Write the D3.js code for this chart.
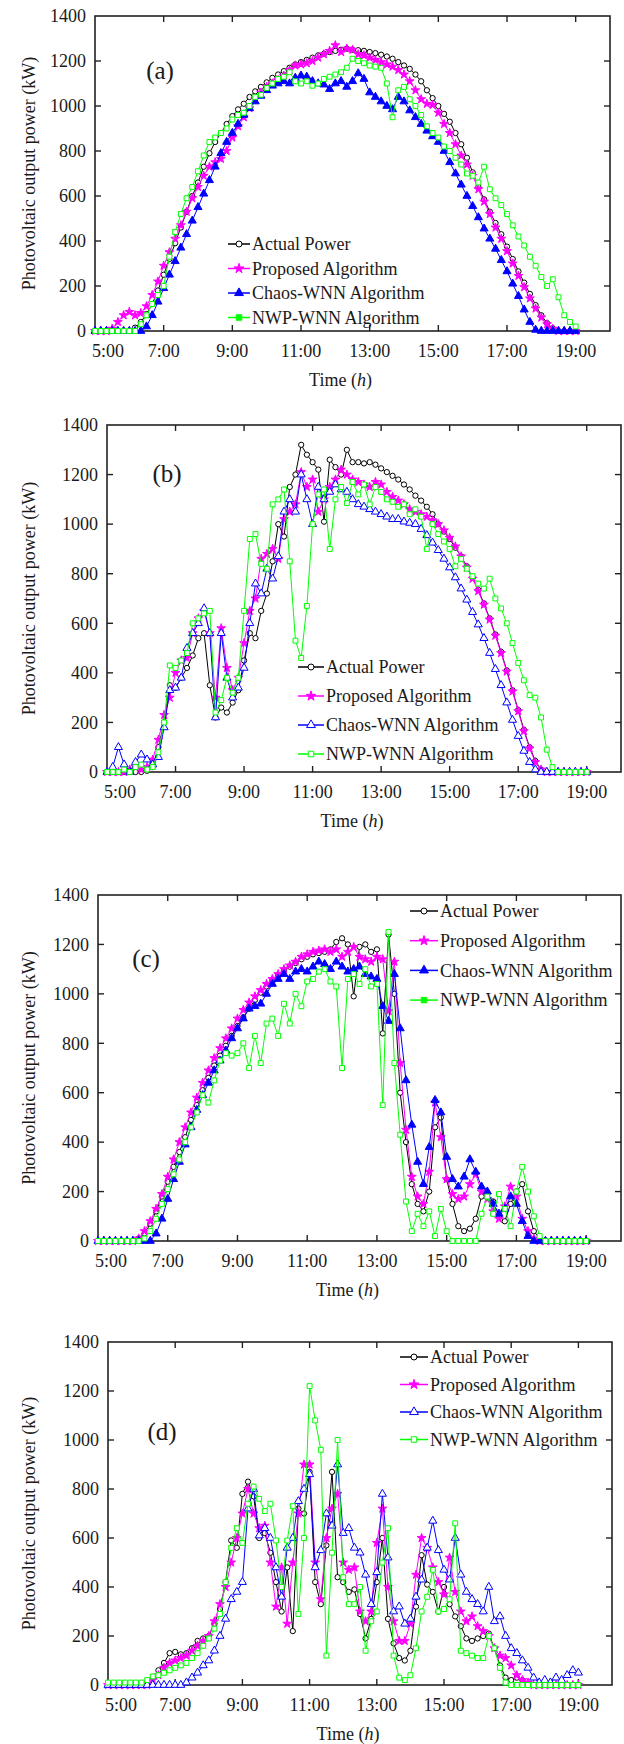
<!DOCTYPE html>
<html lang="en">
  <head>
    <meta charset="utf-8">
    <title>Photovoltaic output power forecasts</title>
    <script src="https://cdn.jsdelivr.net/npm/d3@7"></script>
    <style>
      body { margin: 0; background: #fff; }
      text { font-family: "Liberation Serif", "Times New Roman", serif; fill: #1a1a1a; }
      .frame { fill: none; stroke: #222; stroke-width: 1.6px; }
      .tick { stroke: #222; stroke-width: 1.4px; }
    </style>
  </head>
  <body>
<script>

// ************** Data (kW, one value every 10 minutes from 5:00 to 19:00) *****************

const seriesNames = ["Actual Power", "Proposed Algorithm", "Chaos-WNN Algorithm", "NWP-WNN Algorithm"]
const xTickHours = [5, 7, 9, 11, 13, 15, 17, 19]
const yTickValues = [0, 200, 400, 600, 800, 1000, 1200, 1400]

const actualA = [0,0,0,0,0,0, 0,15,40,75,120,180, 250,320,390,460,530,600, 660,730,790,840,880,920,
  955,985,1010,1040,1065,1085, 1105,1125,1140,1155,1170,1185, 1195,1205,1215,1225,1232,1240,
  1245,1250,1255,1250,1248,1245, 1240,1235,1228,1220,1210,1195, 1180,1165,1140,1110,1070,1035,
  1000,965,930,880,830,770, 705,640,585,530,480,430, 375,320,265,215,165,115, 70,35,12,0,0,0, 0]
const proposedA = [0,0,0,10,40,70, 85,70,80,110,160,220, 290,350,410,470,530,590, 640,690,730,750,765,800,
  860,910,950,990,1030,1060, 1085,1100,1115,1135,1160,1180, 1185,1190,1200,1215,1230,1245,
  1270,1240,1255,1250,1230,1225, 1215,1205,1195,1185,1175,1160, 1140,1110,1070,1030,1010,1005,
  970,920,880,830,780,740, 690,630,575,520,460,410, 355,300,245,195,145,100, 60,30,10,0,0,0, 0]
const chaosA = [0,0,0,0,0,0, 0,0,0,20,70,130, 190,250,310,370,430,490, 550,610,670,730,790,840,
  880,920,960,990,1020,1045, 1070,1090,1100,1110,1100,1125, 1135,1130,1110,1100,1095,1075,
  1100,1110,1085,1110,1145,1120, 1060,1040,1020,1000,985,1040, 1020,980,950,920,890,865,
  840,800,750,700,650,600, 555,505,455,410,365,315, 265,210,155,95,40,5, 0,0,0,0,0,0, 0]
const nwpA = [0,0,0,0,0,0, 0,0,30,70,120,160, 200,330,440,520,590,640, 710,780,840,860,880,900,
  940,960,970,1000,1040,1050, 1080,1100,1120,1130,1150,1110, 1100,1110,1090,1100,1120,1130,
  1140,1150,1170,1210,1200,1190, 1180,1175,1170,1100,950,1070, 1085,1030,1000,960,910,880,
  860,820,800,770,740,700, 690,660,730,630,590,560, 520,470,420,380,330,290, 240,200,230,150,70,40, 20]

const actualB = [0,0,0,0,0,0, 0,5,20,100,200,350, 340,380,420,470,540,560, 350,220,260,240,280,330,
  450,560,540,650,720,850, 1000,950,1150,1200,1320,1280, 1250,1220,1010,1260,1230,1200,
  1300,1250,1250,1245,1250,1240, 1225,1210,1195,1180,1160,1140, 1115,1095,1070,1040,1000,970,
  940,905,870,830,785,735, 680,620,555,485,410,330, 250,170,100,45,10,0, 0,0,0,0,0,0, 0]
const proposedB = [0,0,0,0,10,20, 10,20,50,130,230,300, 400,450,460,560,620,650, 560,300,580,420,330,380,
  520,650,700,860,880,900, 860,1020,1050,1080,1210,1150, 1180,1050,1100,1150,1180,1220,
  1200,1180,1170,1160,1150,1170, 1160,1130,1110,1095,1080,1060, 1050,1040,1030,1015,1000,975,
  945,910,870,825,780,730, 675,615,550,480,405,325, 245,165,95,40,10,0, 0,0,0,0,0,0, 0]
const chaosB = [0,20,100,30,0,40, 70,50,30,60,180,330, 340,380,500,560,600,660, 560,220,560,380,300,340,
  420,600,760,720,820,780, 870,1050,1100,1050,1200,1100, 1000,1150,1100,1130,1160,1140,
  1130,1100,1080,1070,1060,1050, 1040,1030,1020,1020,1010,1005, 1000,980,955,925,895,860,
  825,785,740,695,645,595, 540,480,415,350,280,210, 145,85,40,10,0,0, 0,0,0,0,0,0, 0]
const nwpB = [0,0,0,10,0,20, 30,10,20,80,200,430, 420,450,480,600,620,640, 650,240,290,380,320,380,
  650,940,960,840,820,1080, 1100,1140,850,530,460,670, 1000,1120,1140,900,1100,1150,
  1085,1170,1120,1160,1080,1150, 1130,1100,1090,1070,1080,1040, 1060,1030,900,1000,960,930,
  900,830,860,820,790,760, 740,780,700,660,600,520, 440,370,310,300,220,90, 20,0,0,0,0,0, 0]

const actualC = [0,0,0,0,0,0, 0,10,30,70,120,180, 240,300,360,420,490,550, 610,660,710,750,790,830,
  870,905,940,975,1005,1030, 1055,1075,1095,1110,1125,1140, 1150,1160,1165,1170,1180,1210,
  1225,1200,990,1190,1200,1170, 1180,840,1240,1000,600,400, 230,150,120,200,460,500,
  250,150,60,40,50,90, 180,190,160,100,80,150, 200,230,120,40,10,0, 0,0,0,0,0,0, 0]
const proposedC = [0,0,0,0,0,0, 0,10,40,80,130,190, 260,330,400,460,520,580, 640,690,740,780,820,860,
  900,935,965,990,1015,1040, 1060,1080,1100,1115,1130,1150, 1160,1170,1175,1180,1170,1180,
  1150,1170,1190,1150,1140,1130, 1150,1140,930,1130,720,450, 260,180,150,280,560,420,
  250,190,170,180,230,270, 200,170,120,90,140,220, 180,90,40,10,0,0, 0,0,0,0,0,0, 0]
const chaosC = [0,0,0,0,0,0, 0,0,0,0,30,90, 170,250,320,390,460,530, 590,640,690,730,770,820,
  860,900,940,950,960,1000, 1040,1060,1080,1060,1090,1100, 1090,1110,1130,1120,1100,1130,
  1110,1090,1100,1110,1080,1070, 1060,950,890,1080,860,650, 470,320,230,380,570,520,
  340,250,220,260,330,280, 220,200,150,110,130,180, 150,80,20,0,0,0, 0,0,0,0,0,0, 0]
const nwpC = [0,0,0,0,0,0, 0,0,10,40,90,150, 210,270,330,400,460,520, 590,560,650,730,760,750,
  760,800,700,830,720,880, 900,830,960,880,1000,950, 1050,1060,1090,1100,1050,1030,
  700,1060,1080,1040,1100,1030, 1040,550,1250,720,430,160, 40,110,60,120,20,130,
  40,0,0,0,0,0, 110,180,110,190,130,60, 200,300,200,100,20,0, 0,0,0,0,0,0, 0]

const actualD = [0,0,0,0,0,0, 0,10,30,60,90,130, 135,125,130,150,180,190, 200,250,310,420,590,560,
  780,830,770,600,620,540, 420,300,480,220,720,700, 870,420,330,570,870,440,
  420,380,390,290,190,270, 420,600,270,170,110,100, 140,320,530,410,380,300,
  400,330,280,240,190,180, 190,200,210,150,80,30, 20,30,20,0,0,0, 0,0,0,0,0,0, 0]
const proposedD = [0,0,0,0,0,0, 0,0,20,40,70,90, 100,110,120,140,160,180, 200,260,330,400,500,600,
  700,800,700,640,650,500, 320,480,250,500,700,900, 900,500,350,600,720,780,
  500,470,480,300,260,300, 580,720,400,260,180,180, 250,450,600,560,480,420,
  370,520,380,300,260,280, 240,220,200,150,120,110, 80,40,20,10,0,0, 0,0,0,0,0,0, 0]
const chaosD = [0,0,0,0,0,0, 0,0,0,0,0,0, 0,0,10,30,50,80, 100,140,200,270,350,380,
  420,720,800,610,640,600, 480,360,560,600,750,800, 860,480,550,700,650,900,
  620,640,560,540,450,330, 460,780,520,300,320,250, 270,360,430,560,670,550,
  470,430,600,450,380,350, 330,300,400,260,280,200, 150,130,100,70,30,10, 20,10,30,20,40,60, 50]
const nwpD = [10,10,10,10,10,10, 10,20,35,40,50,60, 70,80,90,110,130,160, 190,230,290,420,560,640,
  580,740,810,760,710,740, 590,400,590,730,290,600, 1220,1080,960,120,540,1000,
  440,330,330,400,140,260, 300,500,640,120,30,20, 40,150,300,360,470,300,
  310,350,660,140,130,120, 110,110,200,150,70,10, 0,0,0,0,0,0, 0,0,0,0,0,0, 0]

// sample times in hours (x categories)
const hours = d3.range(actualA.length).map(i => 5 + i / 6)

// ************** Layout of the four panels *****************

const panels = [
  { tag: "(a)", series: [actualA, proposedA, chaosA, nwpA], left: 95, right: 610, top: 16, bottom: 331,
    legend: { x: 228, y: 244, step: 24.5, len: 22 }, tagPos: [160, 70], solid: true },
  { tag: "(b)", series: [actualB, proposedB, chaosB, nwpB], left: 107, right: 621, top: 425, bottom: 772,
    legend: { x: 298, y: 667, step: 29, len: 26 }, tagPos: [167, 473], solid: false },
  { tag: "(c)", series: [actualC, proposedC, chaosC, nwpC], left: 98, right: 621, top: 895, bottom: 1241,
    legend: { x: 410, y: 911, step: 29.7, len: 28 }, tagPos: [146, 958], solid: true },
  { tag: "(d)", series: [actualD, proposedD, chaosD, nwpD], left: 108, right: 612, top: 1342, bottom: 1685,
    legend: { x: 400, y: 1357, step: 27.5, len: 28 }, tagPos: [162, 1431], solid: false }
]

const colors = ["#000000", "#ff00ff", "#0000ff", "#00ff00"]
const shapes = [d3.symbolCircle, d3.symbolStar, d3.symbolTriangle, d3.symbolSquare]
const shapeSizes = [22, 24, 28, 24]

const svg = d3.select("body").append("svg")
    .attr("width", 624)
    .attr("height", 1744)

const fmtHour = h => h + ":00"

// marker fill: circles and squares open, stars filled, triangles filled on solid panels
function markerFill(k, solid, inLegend) {
    if (k === 1) return colors[1]
    if (k === 2) return solid ? colors[2] : "#fff"
    if (k === 3) return (solid && inLegend) ? colors[3] : "#fff"
    return "#fff"
}

panels.forEach(p => {
    const x = d3.scaleLinear().domain([5, 20]).range([p.left, p.right])
    const y = d3.scaleLinear().domain([0, 1400]).range([p.bottom, p.top])
    const g = svg.append("g")

    // frame
    g.append("rect").attr("class", "frame")
        .attr("x", p.left).attr("y", p.top)
        .attr("width", p.right - p.left).attr("height", p.bottom - p.top)

    // inward ticks on all four sides
    xTickHours.slice(1).forEach(h => {
        g.append("line").attr("class", "tick")
            .attr("x1", x(h)).attr("x2", x(h)).attr("y1", p.bottom).attr("y2", p.bottom - 6)
        g.append("line").attr("class", "tick")
            .attr("x1", x(h)).attr("x2", x(h)).attr("y1", p.top).attr("y2", p.top + 6)
    })
    yTickValues.slice(1, -1).forEach(v => {
        g.append("line").attr("class", "tick")
            .attr("x1", p.left).attr("x2", p.left + 6).attr("y1", y(v)).attr("y2", y(v))
        g.append("line").attr("class", "tick")
            .attr("x1", p.right).attr("x2", p.right - 6).attr("y1", y(v)).attr("y2", y(v))
    })

    // tick labels
    g.selectAll("text.ylab").data(yTickValues).enter().append("text")
        .attr("class", "ylab")
        .attr("x", p.left - 9).attr("y", d => y(d))
        .attr("dy", "0.35em").attr("text-anchor", "end")
        .style("font-size", "18px")
        .text(d => d)
    g.selectAll("text.xlab").data(xTickHours).enter().append("text")
        .attr("class", "xlab")
        .attr("x", (d, i) => x(d) + (i === 0 ? 13 : 0)).attr("y", p.bottom + 20)
        .attr("dy", "0.35em").attr("text-anchor", "middle")
        .style("font-size", "18px")
        .text(fmtHour)

    // axis titles
    const xt = g.append("text")
        .attr("x", (p.left + p.right) / 2 - 12).attr("y", p.bottom + 49)
        .attr("dy", "0.35em").attr("text-anchor", "middle")
        .style("font-size", "18px")
    xt.append("tspan").text("Time (")
    xt.append("tspan").style("font-style", "italic").text("h")
    xt.append("tspan").text(")")

    g.append("text")
        .attr("transform", "translate(29," + ((p.top + p.bottom) / 2) + ") rotate(-90)")
        .attr("dy", "0.35em").attr("text-anchor", "middle")
        .style("font-size", "18px")
        .text("Photovoltaic output power (kW)")

    // panel tag
    g.append("text")
        .attr("x", p.tagPos[0]).attr("y", p.tagPos[1])
        .attr("dy", "0.35em").attr("text-anchor", "middle")
        .style("font-size", "25px")
        .text(p.tag)

    // series
    p.series.forEach((vals, k) => {
        const pts = vals.map((v, i) => [hours[i], v])
        const line = d3.line().x(d => x(d[0])).y(d => y(d[1]))
        g.append("path")
            .attr("d", line(pts))
            .attr("fill", "none")
            .attr("stroke", colors[k])
            .attr("stroke-width", 1)
        g.selectAll("path.m" + k).data(pts).enter().append("path")
            .attr("class", "m" + k)
            .attr("transform", d => "translate(" + x(d[0]) + "," + y(d[1]) + ")")
            .attr("d", d3.symbol().type(shapes[k]).size(shapeSizes[k]))
            .attr("fill", markerFill(k, p.solid, false))
            .attr("stroke", colors[k])
            .attr("stroke-width", 1)
    })

    // legend
    seriesNames.forEach((name, k) => {
        const ly = p.legend.y + k * p.legend.step
        g.append("line")
            .attr("x1", p.legend.x).attr("x2", p.legend.x + p.legend.len)
            .attr("y1", ly).attr("y2", ly)
            .attr("stroke", colors[k]).attr("stroke-width", 1.5)
        g.append("path")
            .attr("transform", "translate(" + (p.legend.x + p.legend.len / 2) + "," + ly + ")")
            .attr("d", d3.symbol().type(shapes[k]).size(shapeSizes[k] + 6))
            .attr("fill", markerFill(k, p.solid, true))
            .attr("stroke", colors[k]).attr("stroke-width", 1)
        g.append("text")
            .attr("x", p.legend.x + p.legend.len + 2).attr("y", ly)
            .attr("dy", "0.35em")
            .style("font-size", "18px")
            .text(name)
    })
})

</script>
  </body>
</html>
